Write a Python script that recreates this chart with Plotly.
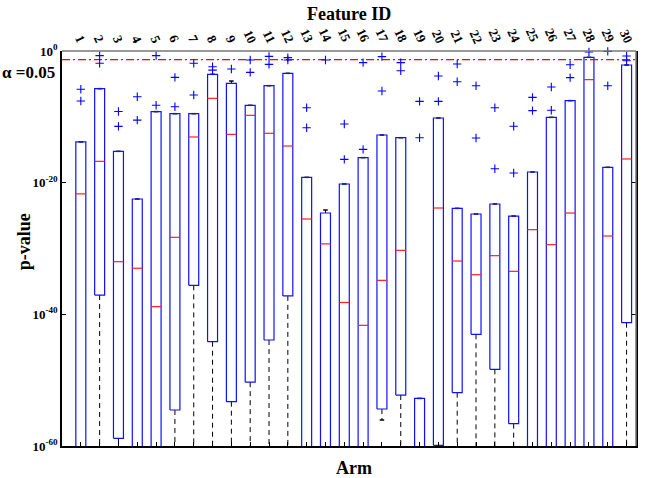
import plotly.graph_objects as go

# ---- data (log10 of p-values) ----
feature_ids = list(range(1, 31))
q3_log  = [-13.8, -5.72, -15.24, -22.48, -9.21, -9.52, -9.52, -3.54, -4.91, -8.25,
           -5.27, -3.39, -19.19, -24.61, -20.2, -16.2, -12.76, -13.17, -52.77, -10.18,
           -23.9, -24.76, -23.24, -25.07, -18.38, -10.08, -7.54, -0.96, -17.67, -2.13]
med_log = [-21.7, -16.76, -32.0, -33.0, -38.83, -28.3, -13.06, -7.19, -12.66, -9.77,
           -12.5, -14.43, -25.52, -29.3, -38.2, -41.67, -34.84, -30.28, -62.0, -23.85,
           -31.9, -33.98, -31.09, -33.47, -27.14, -29.42, -24.61, -4.35, -28.1, -16.4]
q1_log  = [-66.0, -37.07, -58.84, -66.0, -66.0, -54.53, -35.6, -44.16, -53.27, -50.3,
           -43.9, -37.2, -66.0, -66.0, -66.0, -66.0, -54.38, -52.26, -66.0, -59.9,
           -51.9, -43.04, -48.36, -56.61, -66.0, -66.0, -66.0, -66.0, -66.0, -41.27]
whisk_hi_log = [-13.8, -5.72, -15.24, -22.48, -9.21, -9.52, -9.52, -3.54, -4.56, -8.25,
                -5.27, -3.39, -19.19, -24.15, -20.2, -16.2, -12.76, -13.17, -52.77, -10.18,
                -23.9, -24.76, -23.24, -25.07, -18.38, -10.08, -7.54, -0.96, -17.67, -2.13]
whisk_lo_log = [-75.0, -75.0, -75.0, -75.0, -75.0, -75.0, -75.0, -75.0, -75.0, -75.0,
                -75.0, -75.0, -75.0, -75.0, -75.0, -75.0, -56.05, -75.0, -75.0, -75.0,
                -75.0, -75.0, -75.0, -75.0, -75.0, -75.0, -75.0, -75.0, -75.0, -75.0]
outliers_log = [
    [-5.8, -7.6], [-0.71, -1.87], [-9.2, -11.45], [-6.94, -10.5], [-0.71, -8.25],
    [-4.0, -8.46], [-1.87, -6.68], [-2.4, -2.9], [-2.73], [-1.37, -3.24],
    [-0.81, -2.03], [-1.01, -1.37], [-8.61, -11.65], [-1.37], [-11.09, -16.46],
    [-1.77, -14.94], [-0.86, -6.08], [-1.77, -2.99], [-7.65, -13.17], [-3.8, -7.65],
    [-1.97, -4.66], [-5.27, -13.22], [-8.61, -17.88], [-11.44, -18.53], [-7.04, -9.06],
    [-5.47, -9.01], [-2.08, -4.05], [-0.15], [-0.05, -5.27], [-0.76, -1.47],
]
alpha = 0.05
ytick_vals = [1e0, 1e-20, 1e-40, 1e-60]
ytick_text = ["<b>10<sup>0</sup></b>", "<b>10<sup>-20</sup></b>",
              "<b>10<sup>-40</sup></b>", "<b>10<sup>-60</sup></b>"]

# ---- style ----
HW = 0.265   # half box width
CW = 0.12    # half cap width
FONT = "Liberation Serif"

def p(v):
    return 10 ** v

bx, by, mx, my = [], [], [], []
wux, wuy, wlx, wly, cx, cy = [], [], [], [], [], []
ox, oy = [], []
for i, fid in enumerate(feature_ids):
    x = fid
    bx += [x - HW, x + HW, x + HW, x - HW, x - HW, None]
    by += [p(q1_log[i]), p(q1_log[i]), p(q3_log[i]), p(q3_log[i]), p(q1_log[i]), None]
    mx += [x - HW, x + HW, None]
    my += [p(med_log[i]), p(med_log[i]), None]
    if whisk_hi_log[i] > q3_log[i]:
        wux += [x, x, None]
        wuy += [p(q3_log[i]), p(whisk_hi_log[i]), None]
    wlx += [x, x, None]
    wly += [p(q1_log[i]), p(whisk_lo_log[i]), None]
    cx += [x - CW, x + CW, None, x - CW, x + CW, None]
    cy += [p(whisk_hi_log[i]), p(whisk_hi_log[i]), None, p(whisk_lo_log[i]), p(whisk_lo_log[i]), None]
    for o in outliers_log[i]:
        ox.append(x)
        oy.append(p(o))

fig = go.Figure()
fig.add_trace(go.Scatter(x=wlx, y=wly, mode="lines", line=dict(color="black", width=1, dash="5px,4px"),
                         hoverinfo="skip", showlegend=False))
fig.add_trace(go.Scatter(x=wux, y=wuy, mode="lines", line=dict(color="black", width=1, dash="5px,4px"),
                         hoverinfo="skip", showlegend=False))
fig.add_trace(go.Scatter(x=cx, y=cy, mode="lines", line=dict(color="black", width=1.5),
                         hoverinfo="skip", showlegend=False))
fig.add_trace(go.Scatter(x=bx, y=by, mode="lines", line=dict(color="#1010ff", width=1.2),
                         hoverinfo="skip", showlegend=False))
fig.add_trace(go.Scatter(x=mx, y=my, mode="lines", line=dict(color="#ff2020", width=1.2),
                         hoverinfo="skip", showlegend=False))
fig.add_trace(go.Scatter(x=[0, 30.5], y=[alpha, alpha], mode="lines",
                         line=dict(color="red", width=1.2, dash="8px,3px,2px,3px"),
                         hoverinfo="skip", showlegend=False))
fig.add_trace(go.Scatter(x=ox, y=oy, mode="markers", cliponaxis=False,
                         marker=dict(symbol="cross-thin", size=6, line=dict(color="blue", width=1.1)),
                         hoverinfo="skip", showlegend=False))

annotations = [
    dict(text="<b>Feature ID</b>", x=0.5, y=1.094, xref="paper", yref="paper",
         xanchor="center", yanchor="middle", showarrow=False, font=dict(family=FONT, size=18)),
    dict(text="<b>Arm</b>", x=0.509, y=-0.056, xref="paper", yref="paper",
         xanchor="center", yanchor="middle", showarrow=False, font=dict(family=FONT, size=18)),
    dict(text="<b>p-value</b>", x=-0.066, y=0.516, xref="paper", yref="paper",
         xanchor="center", yanchor="middle", textangle=-90, showarrow=False,
         font=dict(family=FONT, size=18)),
    dict(text="<b>α =0.05</b>", x=-0.008, y=-3.2, xref="paper", yref="y",
         xanchor="right", yanchor="middle", showarrow=False, font=dict(family=FONT, size=17)),
]
# top axis tick labels (Feature ID)
for fid in feature_ids:
    annotations.append(dict(text="<b>%d</b>" % fid, x=fid, y=1.0, xref="x", yref="paper",
                            xanchor="center", yanchor="bottom", yshift=3, textangle=65,
                            showarrow=False, font=dict(family=FONT, size=13, color="black")))

fig.update_layout(
    width=649, height=478,
    margin=dict(l=62, r=11, t=51, b=32),
    paper_bgcolor="white", plot_bgcolor="white",
    font=dict(family=FONT, color="black"),
    xaxis=dict(range=[0, 30.5], tickvals=feature_ids, showticklabels=False,
               ticks="inside", ticklen=4, tickcolor="black",
               showline=True, linecolor="black", linewidth=1.5, showgrid=False, zeroline=False),
    yaxis=dict(type="log", range=[-60, 0], tickvals=ytick_vals, ticktext=ytick_text,
               ticks="inside", ticklen=4, tickcolor="black", mirror="ticks",
               tickfont=dict(family=FONT, size=13, color="black"),
               showline=True, linecolor="black", linewidth=1.5, showgrid=False, zeroline=False),
    annotations=annotations,
)
# top and right frame lines in gray
fig.add_shape(type="line", xref="paper", yref="paper", x0=1, x1=1, y0=0, y1=1,
              line=dict(color="#777777", width=1.5))
fig.add_shape(type="line", xref="paper", yref="paper", x0=0, x1=1, y0=1, y1=1,
              line=dict(color="#777777", width=1.5))

fig.write_html("out.html")
